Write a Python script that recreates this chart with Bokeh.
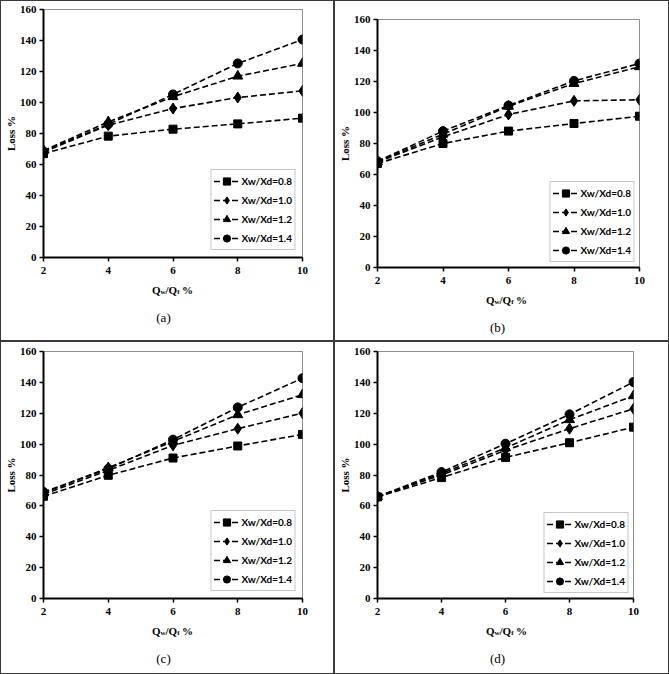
from bokeh.plotting import figure
from bokeh.layouts import row, column
from bokeh.models import Range1d, FixedTicker, Legend, LegendItem, Label
from bokeh.embed import file_html
from bokeh.resources import INLINE

# Water discharge ratio (x axis, %)
q_ratio = [2, 4, 6, 8, 10]

# Series labels (width ratios) and marker types
series_labels = ["Xw/Xd=0.8", "Xw/Xd=1.0", "Xw/Xd=1.2", "Xw/Xd=1.4"]
series_markers = ["square", "diamond", "triangle", "circle"]

# Loss % for each panel, one list per width ratio
loss_a_08 = [67.0, 78.3, 82.8, 86.2, 89.9]
loss_a_10 = [68.0, 85.4, 96.1, 103.2, 107.5]
loss_a_12 = [69.0, 87.5, 103.7, 117.0, 125.2]
loss_a_14 = [68.5, 86.0, 105.2, 125.2, 140.6]

loss_b_08 = [67.1, 80.0, 88.0, 92.9, 97.6]
loss_b_10 = [68.0, 84.3, 98.7, 107.5, 108.2]
loss_b_12 = [68.3, 86.0, 104.0, 118.7, 129.5]
loss_b_14 = [68.6, 88.0, 104.5, 120.4, 131.6]

loss_c_08 = [66.2, 79.8, 91.0, 98.8, 106.3]
loss_c_10 = [67.5, 83.0, 99.2, 110.0, 120.1]
loss_c_12 = [68.3, 84.7, 101.8, 119.0, 132.0]
loss_c_14 = [69.0, 84.0, 102.9, 123.8, 142.7]

loss_d_08 = [65.8, 78.3, 91.4, 100.9, 111.0]
loss_d_10 = [66.0, 80.0, 96.0, 110.0, 122.9]
loss_d_12 = [66.0, 81.0, 97.5, 115.8, 131.3]
loss_d_14 = [66.0, 81.9, 100.3, 119.3, 140.2]

x_ticks = [2, 4, 6, 8, 10]
y_ticks = [0, 20, 40, 60, 80, 100, 120, 140, 160]
captions = ["(a)", "(b)", "(c)", "(d)"]

SERIF = "Liberation Serif"
SANS = "Lato"
MARKER_SIZES = {"square": 8, "diamond": 11, "triangle": 10, "circle": 9}
AXIS_BAND = 24  # height kept under the frame for the x tick labels


def add_x_title(p, x_center, y_base):
    # "Qw/Qf %" with subscripted w and f, built from text pieces
    pieces = [("Q", 11, 0.778), ("w", 7, 0.722), ("/Q", 11, 0.278 + 0.778),
              ("f", 7, 0.7), ("%", 11, 1.0)]
    total = sum(sz * em for _, sz, em in pieces)
    x = x_center - total / 2
    for txt, sz, em in pieces:
        sub = sz < 11
        p.add_layout(Label(x=x, y=y_base - (2.5 if sub else 0), x_units="screen", y_units="screen",
                           text=txt, text_font=SERIF, text_font_style="bold",
                           text_font_size=f"{sz}px", text_align="left",
                           text_baseline="alphabetic", text_color="black"))
        x += sz * em


def make_panel(series, caption, w, h, borders, legend_margin):
    left, right, top, bottom = borders
    plot_h = top + (h - top - bottom) + AXIS_BAND
    p = figure(width=w, height=plot_h, output_backend="svg", toolbar_location=None,
               x_range=Range1d(2, 10), y_range=Range1d(0, 160),
               min_border_left=left, min_border_right=right,
               min_border_top=top, min_border_bottom=AXIS_BAND)
    p.background_fill_color = "white"
    p.border_fill_color = "white"
    p.outline_line_color = "#8f8f8f"
    p.outline_line_width = 1
    p.xgrid.visible = False
    p.ygrid.visible = False

    items = []
    for vals, lab, mk in zip(series, series_labels, series_markers):
        r_line = p.line(q_ratio, vals, line_color="black", line_width=1.6, line_dash="6 3")
        r_pts = p.scatter(q_ratio, vals, marker=mk, size=MARKER_SIZES[mk],
                          fill_color="black", line_color="black")
        items.append(LegendItem(label=lab, renderers=[r_line, r_pts]))

    for ax in (p.xaxis[0], p.yaxis[0]):
        ax.axis_line_color = "black"
        ax.axis_line_width = 2
        ax.major_tick_line_color = "black"
        ax.major_tick_line_width = 1.5
        ax.major_tick_in = 0
        ax.major_tick_out = 4
        ax.minor_tick_line_color = None
        ax.major_label_text_font = SERIF
        ax.major_label_text_font_style = "bold"
        ax.major_label_text_font_size = "11px"
        ax.major_label_text_color = "black"
    p.xaxis.ticker = FixedTicker(ticks=x_ticks)
    p.yaxis.ticker = FixedTicker(ticks=y_ticks)
    p.xaxis.major_label_standoff = 5
    p.yaxis.major_label_standoff = 3

    p.yaxis.axis_label = "Loss %"
    p.yaxis.axis_label_text_font = SERIF
    p.yaxis.axis_label_text_font_style = "bold"
    p.yaxis.axis_label_text_font_size = "11px"
    p.yaxis.axis_label_text_color = "black"
    p.yaxis.axis_label_standoff = 0

    legend = Legend(items=items, location="bottom_right")
    legend.margin = legend_margin
    legend.padding = 2
    legend.spacing = 1
    legend.glyph_width = 26
    legend.glyph_height = 18
    legend.label_height = 18
    legend.label_standoff = 2
    legend.label_text_font = SANS
    legend.label_text_font_style = "bold"
    legend.label_text_font_size = "10px"
    legend.label_text_color = "black"
    legend.border_line_color = "#8f8f8f"
    legend.border_line_width = 1
    legend.background_fill_color = "white"
    legend.background_fill_alpha = 1
    p.add_layout(legend, "center")

    # footer strip holding the x-axis title and the panel caption;
    # same side borders as the plot so both frames line up
    foot_h = h - plot_h
    f = figure(width=w, height=foot_h, output_backend="svg", toolbar_location=None,
               x_range=Range1d(0, 1), y_range=Range1d(0, 1),
               x_axis_location=None, y_axis_location=None,
               min_border_left=left, min_border_right=right,
               min_border_top=0, min_border_bottom=0)
    f.outline_line_color = None
    f.xgrid.visible = False
    f.ygrid.visible = False
    f.background_fill_color = "white"
    f.border_fill_color = "white"
    add_x_title(f, 129, foot_h - 8)
    f.add_layout(Label(x=120, y=foot_h - 36, x_units="screen", y_units="screen",
                       text=caption, text_font=SERIF, text_font_size="13px",
                       text_align="center", text_baseline="middle", text_color="black"))
    return column(p, f, spacing=0, styles={"background-color": "white"})


pa = make_panel([loss_a_08, loss_a_10, loss_a_12, loss_a_14], captions[0], 332, 339, (40, 31, 8, 83), 7)
pb = make_panel([loss_b_08, loss_b_10, loss_b_12, loss_b_14], captions[1], 333, 339, (42, 29, 18, 73), 5)
pc = make_panel([loss_c_08, loss_c_10, loss_c_12, loss_c_14], captions[2], 332, 331, (41, 31, 9, 75), 7)
pd = make_panel([loss_d_08, loss_d_10, loss_d_12, loss_d_14], captions[3], 333, 331, (38, 35, 9, 75), 5)

top_row = row(pa, pb, spacing=2)
bottom_row = row(pc, pd, spacing=2)
page = column(top_row, bottom_row, spacing=2)
page.styles = {"background-color": "#3a3a3a", "padding": "1px", "width": "fit-content"}

with open("out.html", "w") as f:
    f.write(file_html(page, INLINE))
